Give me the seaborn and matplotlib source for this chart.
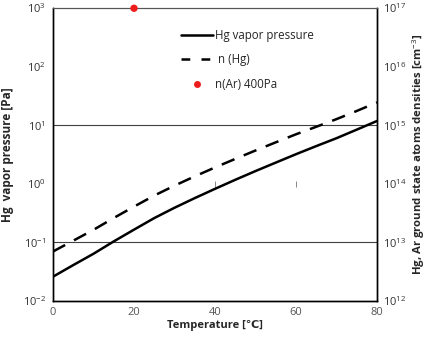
import matplotlib
matplotlib.use("Agg")
import matplotlib.pyplot as plt
import seaborn as sns
import pandas as pd
from matplotlib.lines import Line2D

temperature = [0, 5, 10, 15, 20, 25, 30, 35, 40, 45, 50, 55, 60, 65, 70, 75, 80]
hg_vapor_pressure = [0.026, 0.041, 0.064, 0.104, 0.165, 0.26, 0.39, 0.57, 0.82,
                     1.17, 1.65, 2.3, 3.2, 4.4, 6.0, 8.4, 11.8]
n_hg = [7.0e12, 1.07e13, 1.64e13, 2.61e13, 4.08e13, 6.3e13, 9.3e13, 1.34e14,
        1.9e14, 2.66e14, 3.7e14, 5.1e14, 7.0e14, 9.4e14, 1.27e15, 1.75e15, 2.45e15]
ar_temperature = [20]
n_ar = [9.9e16]
mark_t = [40, 60]
mark_p = [1.0, 1.0]
left_exps = [-2, -1, 0, 1, 2, 3]
right_exps = [12, 13, 14, 15, 16, 17]
x_ticks = [0, 20, 40, 60, 80]

sns.set_theme(style="white")
plt.rcParams["font.family"] = ["Open Sans", "DejaVu Sans"]
plt.rcParams["mathtext.fontset"] = "custom"
plt.rcParams["mathtext.rm"] = "Open Sans"

fig = plt.figure(figsize=(4.30, 3.39), dpi=100)
ax = fig.add_axes([53/430, 1-301/339, 324/430, 293/339])
ax2 = ax.twinx()

df_p = pd.DataFrame({"T": temperature, "p": hg_vapor_pressure})
df_n = pd.DataFrame({"T": temperature, "n": n_hg})
df_ar = pd.DataFrame({"T": ar_temperature, "n": n_ar})

ax.set_yscale("log")
ax2.set_yscale("log")
ax.set_xlim(0, 80)
ax.set_ylim(1e-2, 1e3)
ax2.set_ylim(1e12, 1e17)

for e in [-1, 1]:
    ax.axhline(10.0**e, color="#404040", lw=0.8, zorder=1)

sns.lineplot(data=df_p, x="T", y="p", ax=ax, color="black", lw=1.8, zorder=3)
ax.plot(mark_t, mark_p, ls="none", marker="|", ms=4, mew=0.7, color="#888888")
sns.lineplot(data=df_n, x="T", y="n", ax=ax2, color="black", lw=1.8,
             dashes=False, zorder=3)
ax2.lines[-1].set_dashes((5.5, 4))
sns.scatterplot(data=df_ar, x="T", y="n", ax=ax2, color="#ee1c1c", s=28,
                edgecolor="none", zorder=5, clip_on=False)

ax.set_xticks(x_ticks)
ax.set_xticklabels([str(t) for t in x_ticks], color="#555555", fontsize=8)
ax.set_yticks([10.0**e for e in left_exps])
ax.set_yticklabels([rf"$\mathregular{{10^{{{e}}}}}$" for e in left_exps],
                   color="#333333", fontsize=8)
ax.yaxis.set_minor_locator(matplotlib.ticker.NullLocator())
ax2.set_yticks([10.0**e for e in right_exps])
ax2.set_yticklabels([rf"$\mathregular{{10^{{{e}}}}}$" for e in right_exps],
                    color="#333333", fontsize=8)
ax2.yaxis.set_minor_locator(matplotlib.ticker.NullLocator())
ax.tick_params(axis="both", length=0, pad=5)
ax.tick_params(axis="x", pad=4)
ax2.tick_params(axis="y", length=0, pad=4)

ax.set_xlabel("Temperature [\u2103]", fontsize=8, fontweight="bold", labelpad=2)
ax.set_ylabel("Hg  vapor pressure [Pa]", fontsize=8.5, fontweight="bold", labelpad=6)
ax2.set_ylabel("Hg, Ar ground state atoms densities [cm$^{-3}$]", fontsize=8.2,
               fontweight="bold", labelpad=3)
ax2.set_xlabel("")

for a in (ax, ax2):
    for s in ["left", "bottom", "right"]:
        a.spines[s].set_color("black")
        a.spines[s].set_linewidth(1.0)
    a.spines["top"].set_color("#555555")
    a.spines["top"].set_linewidth(0.8)

handles = [
    Line2D([], [], color="black", lw=1.8),
    Line2D([], [], color="black", lw=1.8, dashes=(3.5, 4.5)),
    Line2D([], [], color="#ee1c1c", marker="o", ls="none", ms=5, mec="none"),
]
labels = ["Hg vapor pressure", " n (Hg)", "n(Ar) 400Pa"]
ax2.legend(handles, labels, loc="upper left", bbox_to_anchor=(0.38, 0.945),
           frameon=False, fontsize=8.3, handlelength=2.8, handletextpad=0.2,
           labelspacing=1.0, borderaxespad=0)

fig.savefig("out.png", dpi=100)
